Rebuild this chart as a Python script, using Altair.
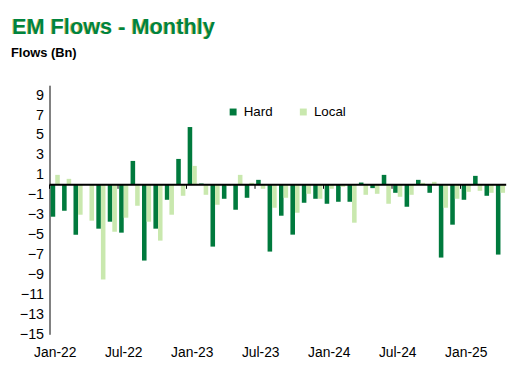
import altair as alt
import pandas as pd

title_text = "EM Flows - Monthly"
subtitle_text = "Flows (Bn)"

months = [
    "Jan-22", "Feb-22", "Mar-22", "Apr-22", "May-22", "Jun-22", "Jul-22", "Aug-22", "Sep-22", "Oct-22", "Nov-22", "Dec-22",
    "Jan-23", "Feb-23", "Mar-23", "Apr-23", "May-23", "Jun-23", "Jul-23", "Aug-23", "Sep-23", "Oct-23", "Nov-23", "Dec-23",
    "Jan-24", "Feb-24", "Mar-24", "Apr-24", "May-24", "Jun-24", "Jul-24", "Aug-24", "Sep-24", "Oct-24", "Nov-24", "Dec-24",
    "Jan-25", "Feb-25", "Mar-25", "Apr-25",
]
hard = [
    -3.2, -2.6, -5.0, 0.0, -4.4, -3.7, -4.8, 2.4, -7.6, -4.4, -1.5, 2.6,
    5.8, 0.13, -6.2, -1.4, -2.5, -1.3, 0.5, -6.7, -3.1, -5.0, -1.8, -1.4,
    -1.9, -1.7, -1.7, 0.23, -0.33, 1.0, -0.8, -2.2, 0.5, -0.8, -7.3, -4.0,
    -1.5, 0.9, -1.1, -7.0,
]
local = [
    1.0, 0.6, -3.0, -3.6, -9.5, -4.7, -3.3, -2.1, -3.7, -5.6, -3.0, -1.1,
    1.9, -1.0, -2.0, -0.1, 1.0, 0.2, -0.4, -2.3, -1.3, -2.8, -0.9, -1.4,
    -0.4, -0.2, -3.8, -1.0, -0.9, -1.9, -1.2, -1.0, 0.2, 0.3, -2.3, -1.4,
    -0.7, -0.6, -0.8, -0.8,
]
series = ["Hard", "Local"]
colors = ["#007A3D", "#C9E8AE"]
y_ticks = list(range(-15, 10, 2))

FONT = "Liberation Sans"

rows = []
for i, m in enumerate(months):
    rows.append({"month": m, "series": "Hard", "value": hard[i]})
    rows.append({"month": m, "series": "Local", "value": local[i]})
df = pd.DataFrame(rows)

tick_df = pd.DataFrame({"pos": [i for i, m in enumerate(months) if m[:3] in ("Jan", "Jul")]})

yscale = alt.Scale(domain=[-15, 10], nice=False, zero=False)


def y_axis():
    return alt.Axis(
        values=y_ticks, title=None, grid=False, ticks=False, domainColor="#000000",
        domainWidth=1, labelPadding=6, labelFontSize=14.5, labelColor="#000000", labelFont=FONT,
        labelOverlap=False, labelBound=False, labelFlush=False,
    )


bars = alt.Chart(df).mark_bar().encode(
    x=alt.X(
        "month:O",
        sort=months,
        scale=alt.Scale(paddingInner=0.2, paddingOuter=0.1),
        axis=alt.Axis(
            title=None, domain=False, ticks=False, labelAngle=0, labelPadding=11,
            labelOverlap=False, labelFontSize=14, labelColor="#000000", labelFont=FONT,
            labelExpr="(substring(datum.label,0,3)=='Jan' || substring(datum.label,0,3)=='Jul') ? datum.label : ''",
        ),
    ),
    xOffset=alt.XOffset("series:N", sort=series, scale=alt.Scale(paddingInner=0, paddingOuter=0)),
    y=alt.Y("value:Q", scale=yscale, axis=y_axis()),
    color=alt.Color(
        "series:N",
        sort=series,
        scale=alt.Scale(domain=series, range=colors),
        legend=alt.Legend(
            title=None, orient="none", legendX=179, legendY=20, direction="horizontal",
            symbolType="square", symbolSize=49, symbolStrokeWidth=0, labelFontSize=13.5,
            labelFont=FONT, labelColor="#000000", columnPadding=24, labelOffset=4, padding=0,
        ),
    ),
)

zero = alt.Chart(pd.DataFrame({"z": [0]})).mark_rule(color="#000000", strokeWidth=2).encode(
    y=alt.Y("z:Q", scale=yscale, axis=y_axis())
)

ticks = alt.Chart(tick_df).mark_rule(color="#000000", strokeWidth=1).encode(
    x=alt.X("pos:Q", scale=alt.Scale(domain=[0, len(months)], nice=False, zero=False), axis=None),
    y=alt.YDatum(0, axis=y_axis()),
    y2=alt.datum(-0.4),
)

tdf = pd.DataFrame({"t": [title_text]})
sdf = pd.DataFrame({"t": [subtitle_text]})

title_shadow = alt.Chart(tdf).mark_text(
    align="left", baseline="alphabetic", fontSize=22, fontWeight="bold", font=FONT,
    color="#D8B84A", opacity=0.8,
).encode(text="t:N", x=alt.value(-38.8), y=alt.value(-52))
title_main = alt.Chart(tdf).mark_text(
    align="left", baseline="alphabetic", fontSize=22, fontWeight="bold", font=FONT, color="#00843F"
).encode(text="t:N", x=alt.value(-38), y=alt.value(-52))
subtitle = alt.Chart(sdf).mark_text(
    align="left", baseline="alphabetic", fontSize=13, fontWeight="bold", font=FONT, color="#000000"
).encode(text="t:N", x=alt.value(-39), y=alt.value(-29))

chart = (
    alt.layer(bars, ticks, zero, title_shadow, title_main, subtitle)
    .resolve_scale(x="independent")
    .properties(
        width=462,
        height=252,
        autosize=alt.AutoSizeParams(type="none"),
        padding={"left": 42, "top": 76, "right": 16, "bottom": 31},
    )
    .configure_view(stroke=None)
)

chart.save("out.html", embed_options={"renderer": "svg", "actions": False})
